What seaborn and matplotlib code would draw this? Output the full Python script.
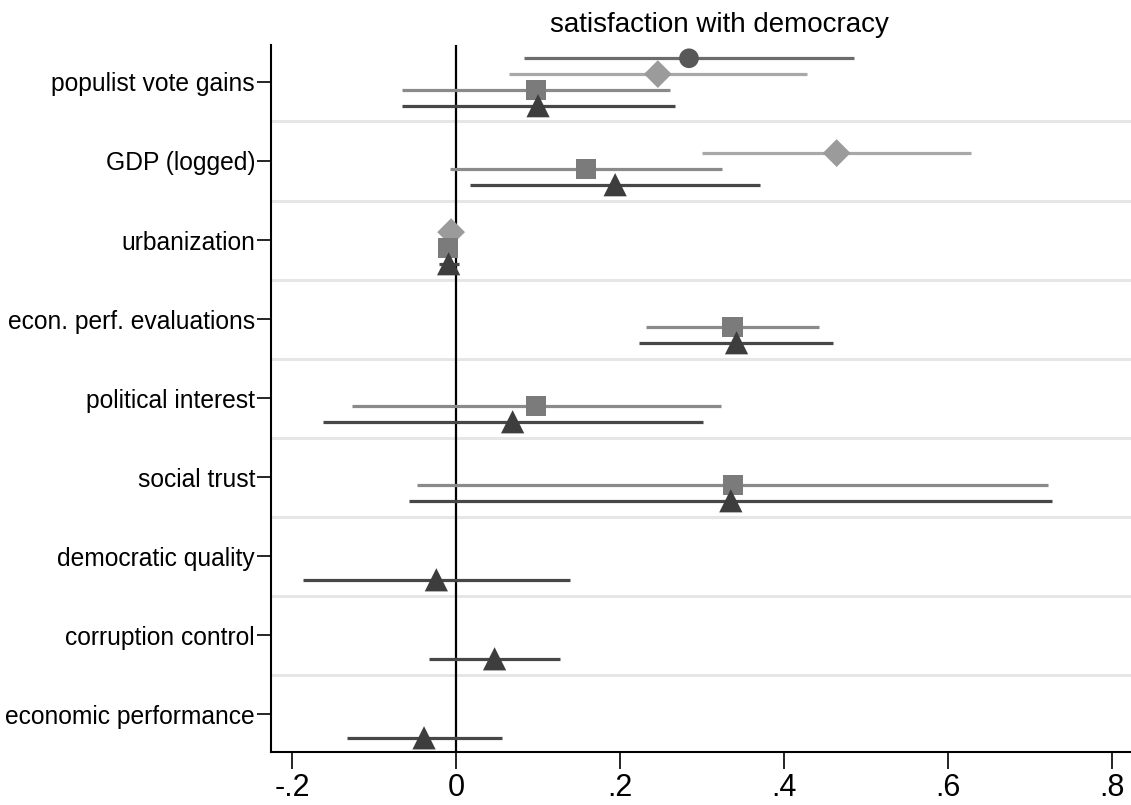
import matplotlib
matplotlib.use("Agg")
import matplotlib.pyplot as plt
import numpy as np
import pandas as pd
import seaborn as sns

# Predictors, top to bottom
variables = [
    "populist vote gains", "GDP (logged)", "urbanization",
    "econ. perf. evaluations", "political interest", "social trust",
    "democratic quality", "corruption control", "economic performance",
]
models = ["m1", "m2", "m3", "m4"]

# Coefficients and 95% confidence bounds per model (None = not in model)
m1_coef = [0.284, None, None, None, None, None, None, None, None]
m1_lo   = [0.083, None, None, None, None, None, None, None, None]
m1_hi   = [0.485, None, None, None, None, None, None, None, None]

m2_coef = [0.246, 0.464, -0.006, None, None, None, None, None, None]
m2_lo   = [0.065, 0.300, -0.016, None, None, None, None, None, None]
m2_hi   = [0.428, 0.628, 0.004, None, None, None, None, None, None]

m3_coef = [0.098, 0.158, -0.010, 0.337, 0.098, 0.338, None, None, None]
m3_lo   = [-0.066, -0.007, -0.020, 0.232, -0.127, -0.048, None, None, None]
m3_hi   = [0.261, 0.324, 0.000, 0.442, 0.323, 0.722, None, None, None]

m4_coef = [0.100, 0.194, -0.009, 0.342, 0.069, 0.335, -0.024, 0.047, -0.039]
m4_lo   = [-0.066, 0.017, -0.021, 0.223, -0.162, -0.057, -0.186, -0.033, -0.133]
m4_hi   = [0.267, 0.371, 0.004, 0.460, 0.301, 0.727, 0.139, 0.127, 0.056]

tick_values = [-0.2, 0.0, 0.2, 0.4, 0.6, 0.8]
tick_labels = ["-.2", "0", ".2", ".4", ".6", ".8"]

# Styling per model
offsets = {"m1": -0.3, "m2": -0.1, "m3": 0.1, "m4": 0.3}
markers = {"m1": "o", "m2": "D", "m3": "s", "m4": "^"}
marker_sizes = {"m1": 200, "m2": 200, "m3": 210, "m4": 280}
point_colors = {"m1": "#585858", "m2": "#9b9b9b", "m3": "#7b7b7b", "m4": "#3d3d3d"}
line_colors = {"m1": "#6c6c6c", "m2": "#a8a8a8", "m3": "#8a8a8a", "m4": "#474747"}

rows = []
for m, coef, lo, hi in [("m1", m1_coef, m1_lo, m1_hi), ("m2", m2_coef, m2_lo, m2_hi),
                        ("m3", m3_coef, m3_lo, m3_hi), ("m4", m4_coef, m4_lo, m4_hi)]:
    for i, v in enumerate(variables):
        if coef[i] is None:
            continue
        rows.append({"model": m, "variable": v, "idx": i,
                     "pos": i + offsets[m], "coef": coef[i],
                     "lo": lo[i], "hi": hi[i]})
df = pd.DataFrame(rows)

sns.set_theme(style="white")
plt.rcParams["font.family"] = ["Liberation Sans", "DejaVu Sans"]
plt.rcParams["text.color"] = "black"
plt.rcParams["xtick.color"] = "black"
plt.rcParams["ytick.color"] = "black"

fig = plt.figure(figsize=(11.31, 8.05), dpi=100)
ax = fig.add_axes([0.2396, 0.0658, 0.7924, 0.8783])

# separators between variable groups
for k in range(len(variables) - 1):
    ax.axhline(k + 0.5, color="#e6e6e6", lw=2.2, zorder=0)

ax.axvline(0, color="black", lw=1.6, zorder=1)

for m in models:
    sub = df[df["model"] == m]
    ax.hlines(sub["pos"], sub["lo"], sub["hi"], color=line_colors[m], lw=2.3, zorder=2)

sns.scatterplot(data=df, x="coef", y="pos", hue="model", style="model",
                size="model", sizes=marker_sizes, hue_order=models,
                palette=point_colors, markers=markers, linewidth=0,
                legend=False, ax=ax, zorder=3)

ax.set_xlim(-0.2256, 0.867)
ax.set_ylim(8.48, -0.468)
ax.set_yticks(range(len(variables)))
ax.set_yticklabels(variables, fontsize=17.7, color="black")
ax.set_xticks(tick_values)
ax.set_xticklabels(tick_labels, fontsize=22, color="black")
ax.set_xlabel("")
ax.set_ylabel("")
ax.tick_params(axis="y", direction="out", length=10, width=1.2, color="black", pad=1.5, left=True)
ax.tick_params(axis="x", direction="out", length=12, width=1.2, color="black", pad=3, bottom=True)

for side in ["top", "right"]:
    ax.spines[side].set_visible(False)
for side in ["left", "bottom"]:
    ax.spines[side].set_color("black")
    ax.spines[side].set_linewidth(1.5)

ax.set_title("satisfaction with democracy", fontsize=20, pad=9, color="black")

fig.savefig("out.png", dpi=100)
